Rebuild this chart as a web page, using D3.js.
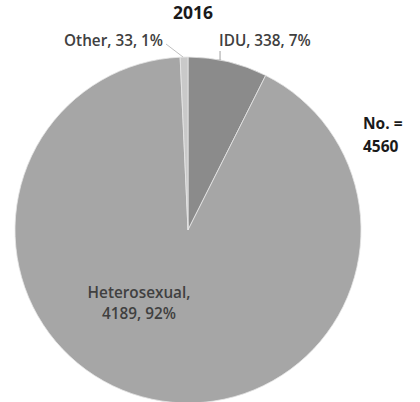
<!DOCTYPE html>
<html>
<head>
<meta charset="utf-8">
<script src="https://cdn.jsdelivr.net/npm/d3@7"></script>
<style>
  html, body { margin: 0; padding: 0; background: #fff; }
  svg { display: block; }
  text { font-family: "Open Sans", "Noto Sans", sans-serif; fill: #404040; }
</style>
</head>
<body>
<svg id="chart" width="420" height="402"></svg>
<script>
// Transmission categories, 2016
const categories = ["IDU", "Heterosexual", "Other"];
const counts = [338, 4189, 33];
const percents = ["7%", "92%", "1%"];
const sliceColors = ["#8b8b8b", "#a6a6a6", "#c9c9c9"];
const title = "2016";
const totalLabel = ["No. =", "4560"];

const cx = 188, cy = 230, radius = 173;

const svg = d3.select("#chart");

const pie = d3.pie().sort(null).value(d => d.count);
const data = categories.map((c, i) => ({ name: c, count: counts[i], pct: percents[i], color: sliceColors[i] }));
const arcs = pie(data);
const arc = d3.arc().innerRadius(0).outerRadius(radius);

const g = svg.append("g").attr("transform", `translate(${cx},${cy})`);

g.selectAll("path.slice")
  .data(arcs)
  .enter().append("path")
  .attr("class", "slice")
  .attr("d", arc)
  .attr("fill", d => d.data.color)
  .attr("stroke", "#e6e6e6")
  .attr("stroke-width", 0.8);

// Title
svg.append("text")
  .attr("x", 193).attr("y", 19)
  .attr("text-anchor", "middle")
  .style("font-size", "17.5px").style("font-weight", "bold")
  .style("fill", "#1a1a1a")
  .text(title);

// Point on the outer edge at the middle angle of a slice
function edgePoint(a, r) {
  const m = (a.startAngle + a.endAngle) / 2;
  return [cx + Math.sin(m) * r, cy - Math.cos(m) * r];
}

const labelStyle = sel => sel.style("font-size", "15.3px").style("font-weight", "600");

// IDU label with short leader
const idu = arcs[0];
svg.append("text").attr("x", 219).attr("y", 46).call(labelStyle)
  .text(`${idu.data.name}, ${idu.data.count}, ${idu.data.pct}`);
const iduAngle = idu.startAngle + 0.4 * (idu.endAngle - idu.startAngle);
const iduEdge = [cx + Math.sin(iduAngle) * radius, cy - Math.cos(iduAngle) * radius];
svg.append("line")
  .attr("x1", iduEdge[0]).attr("y1", 51)
  .attr("x2", iduEdge[0]).attr("y2", iduEdge[1])
  .attr("stroke", "#a0a0a0").attr("stroke-width", 1);

// Other label with diagonal leader
const other = arcs[2];
svg.append("text").attr("x", 163).attr("y", 46).attr("text-anchor", "end").call(labelStyle)
  .text(`${other.data.name}, ${other.data.count}, ${other.data.pct}`);
const otherEdge = edgePoint(other, radius);
svg.append("line")
  .attr("x1", 166).attr("y1", 44)
  .attr("x2", otherEdge[0] - 1).attr("y2", otherEdge[1])
  .attr("stroke", "#c0c0c0").attr("stroke-width", 1);

// Heterosexual label inside slice
const het = arcs[1];
const hetText = svg.append("text").attr("text-anchor", "middle").call(labelStyle);
hetText.append("tspan").attr("x", 139).attr("y", 298).text(`${het.data.name},`);
hetText.append("tspan").attr("x", 139).attr("y", 319).text(`${het.data.count}, ${het.data.pct}`);

// Total
const tot = svg.append("text").style("font-size", "15.5px").style("font-weight", "bold").style("fill", "#1a1a1a");
tot.append("tspan").attr("x", 363).attr("y", 129).text(totalLabel[0]);
tot.append("tspan").attr("x", 363).attr("y", 152).text(totalLabel[1]);
</script>
</body>
</html>
